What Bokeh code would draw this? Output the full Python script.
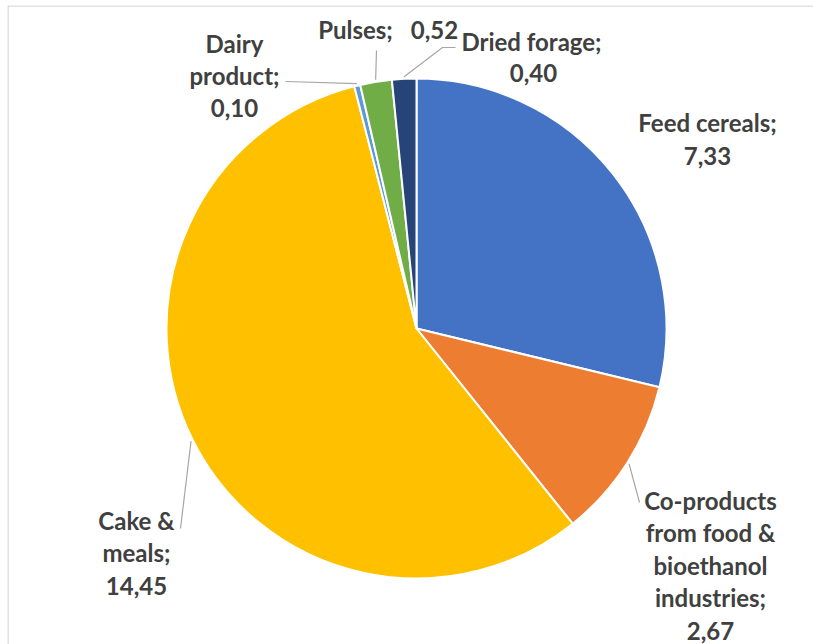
import math
from bokeh.plotting import figure
from bokeh.models import Range1d, Span
from bokeh.core.properties import value
from bokeh.embed import file_html
from bokeh.resources import INLINE

categories = ["Feed cereals", "Co-products from food & bioethanol industries",
              "Cake & meals", "Dairy product", "Pulses", "Dried forage"]
values = [7.33, 2.67, 14.45, 0.10, 0.52, 0.40]
value_labels = ["7,33", "2,67", "14,45", "0,10", "0,52", "0,40"]
colors = ["#4472C4", "#ED7D31", "#FFC000", "#5B9BD5", "#70AD47", "#264478"]

# label text pieces (layout): (text, centre x, centre y) in page px
label_items = [
    [("Feed cereals;", 707, 122), ("7,33", 707, 155)],
    [("Co-products", 710, 500), ("from food &", 710, 532), ("bioethanol", 710, 565),
     ("industries;", 710, 597), ("2,67", 710, 630)],
    [("Cake &", 136, 520), ("meals;", 136, 552), ("14,45", 136, 585)],
    [("Dairy", 234, 43), ("product;", 234, 75), ("0,10", 234, 107)],
    [("Pulses;", 355, 29), ("0,52", 434, 29)],
    [("Dried forage;", 531, 41), ("0,40", 533, 72)],
]
# leader line end points (page px), None = no leader
leader_end = [None, [(639, 502)], [(180, 528)], [(285, 81)], [(376, 50)], [(442, 47), (455, 47)]]

W, H = 813, 644
L0, T0 = 7, 5  # chart border offset
def px(x): return x
def py(y): return -y

cx, cy, R = px(416), py(328), 250

p = figure(width=W, height=H, output_backend="svg", toolbar_location=None,
           x_range=Range1d(L0, W), y_range=Range1d(-H, -T0),
           min_border_left=L0, min_border_top=T0, min_border_right=0, min_border_bottom=0)
p.axis.visible = False
p.grid.visible = False
p.outline_line_color = None
p.background_fill_color = "white"
p.border_fill_color = "white"
p.add_layout(Span(location=L0 + 0.5, dimension="height", line_color="#D9D9D9", line_width=1.5))
p.add_layout(Span(location=-(T0 + 0.5), dimension="width", line_color="#D9D9D9", line_width=1.5))

total = sum(values)
cum = 0.0
for i, v in enumerate(values):
    a0 = math.pi / 2 - 2 * math.pi * cum / total
    a1 = math.pi / 2 - 2 * math.pi * (cum + v) / total
    p.wedge(x=[cx], y=[cy], radius=R, start_angle=a0, end_angle=a1, direction="clock",
            fill_color=colors[i], line_color="white", line_width=2)
    mid = (a0 + a1) / 2
    if leader_end[i] is not None:
        xs = [cx + (R + 2) * math.cos(mid)] + [px(e[0]) for e in leader_end[i]]
        ys = [cy + (R + 2) * math.sin(mid)] + [py(e[1]) for e in leader_end[i]]
        p.line(xs, ys, line_color="#A6A6A6", line_width=1.2)
    cum += v

for items in label_items:
    p.text(x=[px(t[1]) for t in items], y=[py(t[2]) for t in items], text=[t[0] for t in items],
           text_align="center", text_baseline="middle",
           text_font=value("Lato"), text_font_style="bold", text_font_size="24px",
           text_color="#404040")

open("out.html", "w").write(file_html(p, INLINE))
